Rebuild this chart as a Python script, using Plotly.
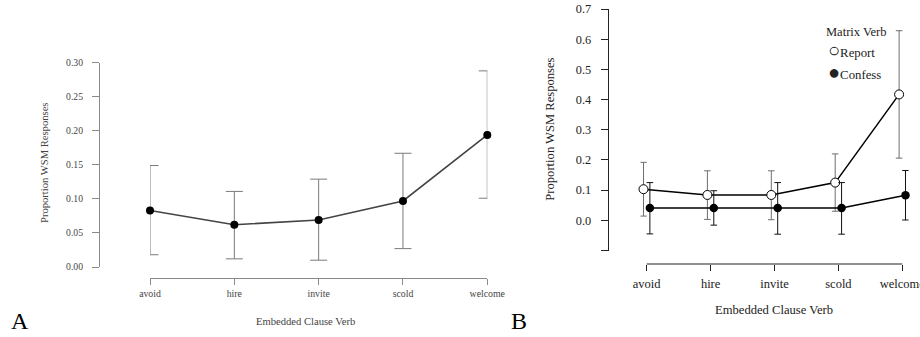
import plotly.graph_objects as go

# ---------------- data ----------------
verbs = ["avoid", "hire", "invite", "scold", "welcome"]

# Panel A
a_mean = [0.083, 0.062, 0.069, 0.097, 0.194]
a_low = [0.018, 0.012, 0.010, 0.027, 0.101]
a_high = [0.149, 0.111, 0.129, 0.167, 0.288]

# Panel B
report_mean = [0.103, 0.084, 0.084, 0.125, 0.417]
report_low = [0.014, 0.003, 0.002, 0.030, 0.206]
report_high = [0.192, 0.164, 0.164, 0.220, 0.628]

confess_mean = [0.041, 0.041, 0.041, 0.041, 0.083]
confess_low = [-0.045, -0.016, -0.046, -0.046, 0.001]
confess_high = [0.125, 0.098, 0.125, 0.125, 0.165]

a_yticks = [0.0, 0.05, 0.10, 0.15, 0.20, 0.25, 0.30]
b_yticks = [-0.1, 0.0, 0.1, 0.2, 0.3, 0.4, 0.5, 0.6, 0.7]
b_yticktext = ["", "0.0", "0.1", "0.2", "0.3", "0.4", "0.5", "0.6", "0.7"]

# --------------- layout helpers ---------------
W, H = 920, 337
FONT = "Liberation Serif"


def px(x):
    return x / W


def py(y):
    return 1 - y / H


xi = list(range(len(verbs)))
dodge = 0.05
pad_b = 0.1  # extra x range in panel B so dodged end points stay visible
unit_b = (902.3 - 646.7) / 4

fig = go.Figure()

# Panel A
fig.add_trace(go.Scatter(
    x=xi, y=a_mean, mode="lines+markers", xaxis="x", yaxis="y",
    line=dict(color="#444444", width=1.6),
    marker=dict(color="black", size=8),
    error_y=dict(type="data", symmetric=False,
                 array=[h - m for h, m in zip(a_high, a_mean)],
                 arrayminus=[m - l for m, l in zip(a_mean, a_low)],
                 color="#7a7a7a", thickness=1, width=8.5),
    cliponaxis=False, showlegend=False, hoverinfo="skip"))

# Panel B - Report
fig.add_trace(go.Scatter(
    x=[i - dodge for i in xi], y=report_mean, mode="lines+markers",
    xaxis="x2", yaxis="y2", name="Report",
    line=dict(color="black", width=1.5),
    marker=dict(color="white", size=9, line=dict(color="black", width=1)),
    error_y=dict(type="data", symmetric=False,
                 array=[h - m for h, m in zip(report_high, report_mean)],
                 arrayminus=[m - l for m, l in zip(report_mean, report_low)],
                 color="#6e6e6e", thickness=1, width=3.3),
    cliponaxis=False, showlegend=False, hoverinfo="skip"))

# Panel B - Confess
fig.add_trace(go.Scatter(
    x=[i + dodge for i in xi], y=confess_mean, mode="lines+markers",
    xaxis="x2", yaxis="y2", name="Confess",
    line=dict(color="black", width=1.5),
    marker=dict(color="black", size=8.5),
    error_y=dict(type="data", symmetric=False,
                 array=[h - m for h, m in zip(confess_high, confess_mean)],
                 arrayminus=[m - l for m, l in zip(confess_mean, confess_low)],
                 color="#111111", thickness=1, width=3.3),
    cliponaxis=False, showlegend=False, hoverinfo="skip"))

axis_common = dict(showgrid=False, zeroline=False, ticks="outside",
                   anchor="free", automargin=False, ticklabeloverflow="allow")

fig.update_layout(
    width=W, height=H, autosize=False,
    margin=dict(l=0, r=0, t=0, b=0, pad=0, autoexpand=False),
    paper_bgcolor="white", plot_bgcolor="white",
    font=dict(family=FONT),
    xaxis=dict(**axis_common, showline=True,
               domain=[px(150), px(487.3)], range=[0, 4],
               position=py(277.7), tickvals=xi, ticktext=verbs,
               linecolor="#8a8a8a", tickcolor="#8a8a8a", ticklen=6,
               ticklabelstandoff=1,
               tickfont=dict(family=FONT, size=9.8, color="#444444")),
    yaxis=dict(**axis_common, showline=True,
               domain=[py(267), py(62.7)], range=[0, 0.30],
               position=px(99), tickvals=a_yticks, tickformat=".2f",
               linecolor="#8a8a8a", tickcolor="#8a8a8a", ticklen=7,
               ticklabelstandoff=7,
               tickfont=dict(family=FONT, size=9.7, color="#444444")),
    xaxis2=dict(**axis_common, showline=False,
                domain=[px(646.7 - pad_b * unit_b), px(902.3 + pad_b * unit_b)],
                range=[-pad_b, 4 + pad_b],
                position=py(264), tickvals=xi, ticktext=verbs,
                tickcolor="#222222", ticklen=6, ticklabelstandoff=2,
                tickfont=dict(family=FONT, size=12.5, color="#222222")),
    yaxis2=dict(**axis_common, showline=True,
                domain=[py(250.5), py(9)], range=[-0.1, 0.7],
                position=px(607.7), tickvals=b_yticks, ticktext=b_yticktext,
                linecolor="#222222", tickcolor="#222222", ticklen=7,
                ticklabelstandoff=7,
                tickfont=dict(family=FONT, size=12.3, color="#222222")),
)

# x-axis line of panel B spanning only first to last category (R style)
fig.add_shape(type="line", xref="x2", yref="paper", x0=0, x1=len(verbs) - 1,
              y0=py(264), y1=py(264), line=dict(color="#222222", width=1))

annotations = [
    # Panel A titles
    dict(text="Proportion WSM Responses", x=px(45), y=py(163), textangle=-90,
         font=dict(size=10.6, color="#444444")),
    dict(text="Embedded Clause Verb", x=px(305.5), y=py(321),
         font=dict(size=10.6, color="#444444")),
    # Panel B titles
    dict(text="Proportion WSM Responses", x=px(550), y=py(129.7), textangle=-90,
         font=dict(size=12.6, color="#222222")),
    dict(text="Embedded Clause Verb", x=px(773.5), y=py(310),
         font=dict(size=12.6, color="#222222")),
    # Panel letters
    dict(text="A", x=px(19.5), y=py(320.5), font=dict(size=24, color="black")),
    dict(text="B", x=px(519), y=py(321), font=dict(size=24, color="black")),
    # Legend (B)
    dict(text="Matrix Verb", x=px(824), y=py(31.7), xanchor="left",
         font=dict(size=12.5, color="#222222")),
    dict(text="<span style='font-size:20px'>○</span>Report", x=px(826),
         y=py(50.3), xanchor="left", font=dict(size=12.8, color="#222222")),
    dict(text="<span style='font-size:20px'>●</span>Confess", x=px(826),
         y=py(71.7), xanchor="left", font=dict(size=12.8, color="#222222")),
]
for a in annotations:
    a.setdefault("xanchor", "center")
    a.update(xref="paper", yref="paper", yanchor="middle", showarrow=False,
             font=dict(family=FONT, **a["font"]))
fig.update_layout(annotations=annotations)

# the page's default 8px body margin would shift the whole figure
fig.write_html("out.html", config={"displayModeBar": False},
               post_script="document.body.style.margin='0';")
